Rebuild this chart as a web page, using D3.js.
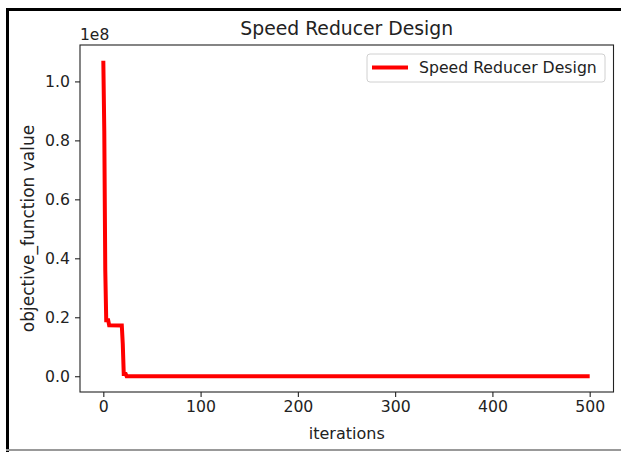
<!DOCTYPE html>
<html>
<head>
<meta charset="utf-8">
<script src="https://cdn.jsdelivr.net/npm/d3@7"></script>
<style>
  html, body { margin: 0; padding: 0; background: #fff; }
  svg { display: block; }
  text { font-family: "DejaVu Sans", sans-serif; fill: #222; }
</style>
</head>
<body>
<svg id="chart" width="621" height="452"></svg>
<script>
// Convergence curve: iteration numbers where the best value changes, and the value there
const iterations = [0, 1, 2, 3, 5, 6, 19, 20, 21, 23, 24, 500];
const objectiveValues = [1.07e8, 0.83e8, 0.36e8, 0.19e8, 0.19e8, 0.173e8, 0.172e8, 0.11e8, 0.008e8, 0.008e8, 0.00003e8, 0.00003e8];

const xTicks = [0, 100, 200, 300, 400, 500];
const yTicks = [0, 0.2e8, 0.4e8, 0.6e8, 0.8e8, 1.0e8];
const seriesName = "Speed Reducer Design";
const chartTitle = "Speed Reducer Design";
const xLabel = "iterations";
const yLabel = "objective_function value";

const points = iterations.map((it, i) => ({ it, v: objectiveValues[i] }));

const svg = d3.select("#chart");
const plot = { left: 80, right: 613.5, top: 45, bottom: 392 };

// Outer frame
svg.append("line").attr("x1", 6).attr("x2", 621).attr("y1", 9.5).attr("y2", 9.5)
  .attr("stroke", "#000").attr("stroke-width", 3);
svg.append("line").attr("x1", 7.5).attr("x2", 7.5).attr("y1", 8).attr("y2", 452)
  .attr("stroke", "#000").attr("stroke-width", 3);
svg.append("line").attr("x1", 6).attr("x2", 621).attr("y1", 450).attr("y2", 450)
  .attr("stroke", "#999").attr("stroke-width", 2);

// Scales with 5% padding around the data, like matplotlib's autoscale
const xMin = d3.min(iterations), xMax = d3.max(iterations);
const xPad = (xMax - xMin) * 0.05;
const x = d3.scaleLinear().domain([xMin - xPad, xMax + xPad]).range([plot.left - 1, plot.right + 0.5]);
const yMin = d3.min(objectiveValues), yMax = d3.max(objectiveValues);
const yPad = (yMax - yMin) * 0.05;
const y = d3.scaleLinear().domain([yMin - yPad, yMax + yPad]).range([plot.bottom, plot.top]);

// Data line
const line = d3.line().x(d => x(d.it)).y(d => y(d.v));
svg.append("path").datum(points)
  .attr("d", line)
  .attr("fill", "none")
  .attr("stroke", "#ff0000")
  .attr("stroke-width", 4)
  .attr("stroke-linejoin", "miter")
  .attr("stroke-linecap", "butt");

// Axes
const xAxis = d3.axisBottom(x).tickValues(xTicks).tickSize(5).tickPadding(4).tickFormat(d3.format("d"));
const gx = svg.append("g").attr("transform", `translate(0,${plot.bottom})`).call(xAxis);
const yAxis = d3.axisLeft(y).tickValues(yTicks).tickSize(5).tickPadding(5).tickFormat(d => (d / 1e8).toFixed(1));
const gy = svg.append("g").attr("transform", `translate(${plot.left},0)`).call(yAxis);
[gx, gy].forEach(g => {
  g.select(".domain").remove();
  g.selectAll(".tick line").attr("stroke", "#222").attr("stroke-width", 1.1);
  g.selectAll(".tick text").attr("font-size", 15.7).attr("font-family", "DejaVu Sans").attr("fill", "#222");
});

// Spines
svg.append("rect")
  .attr("x", plot.left).attr("y", plot.top)
  .attr("width", plot.right - plot.left).attr("height", plot.bottom - plot.top)
  .attr("fill", "none").attr("stroke", "#222").attr("stroke-width", 1.1);

// Scale offset text
svg.append("text").attr("x", plot.left).attr("y", 40).attr("font-size", 15.5).text("1e8");

// Title and axis labels
svg.append("text").attr("x", (plot.left + plot.right) / 2).attr("y", 35)
  .attr("text-anchor", "middle").attr("font-size", 18.8).text(chartTitle);
svg.append("text").attr("x", (plot.left + plot.right) / 2).attr("y", 439)
  .attr("text-anchor", "middle").attr("font-size", 16).text(xLabel);
svg.append("text")
  .attr("transform", `translate(34,${(plot.top + plot.bottom) / 2 + 10}) rotate(-90)`)
  .attr("text-anchor", "middle").attr("font-size", 17).text(yLabel);

// Legend
const lg = svg.append("g");
lg.append("rect").attr("x", 367).attr("y", 54).attr("width", 238).attr("height", 28).attr("rx", 3)
  .attr("fill", "#fff").attr("fill-opacity", 0.8).attr("stroke", "#d0d0d0").attr("stroke-width", 1);
lg.append("line").attr("x1", 372).attr("x2", 408).attr("y1", 67.5).attr("y2", 67.5)
  .attr("stroke", "#ff0000").attr("stroke-width", 4);
lg.append("text").attr("x", 419).attr("y", 73).attr("font-size", 15.7).text(seriesName);
</script>
</body>
</html>
